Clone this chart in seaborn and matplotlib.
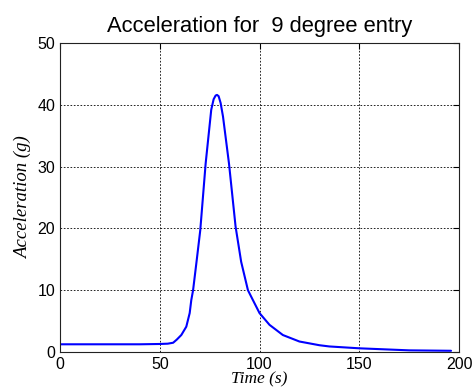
import pandas as pd
import matplotlib
matplotlib.use('Agg')
import matplotlib.pyplot as plt
import seaborn as sns

# values
time_s = [0, 20, 40, 50, 54, 56.7, 58.5, 60.8, 63.3, 65, 65.8, 66.7, 68.5, 70.3,
          73, 75.8, 77, 78, 78.7, 79.5, 80.5, 81.7, 84.7, 88, 90.8, 94.2,
          96.7, 100, 105, 111.7, 120, 130, 135, 150, 175, 196]
accel_g = [1.25, 1.25, 1.25, 1.3, 1.35, 1.5, 2.0, 2.75, 4.1, 6.3, 8.4, 10.0, 14.8, 19.7,
           30.5, 39.2, 40.9, 41.5, 41.6, 41.4, 40.3, 38.1, 30.5, 20.3, 14.6, 10.0,
           8.4, 6.3, 4.4, 2.75, 1.7, 1.1, 0.9, 0.6, 0.27, 0.2]

df = pd.DataFrame({'Time': time_s, 'Accel': accel_g})

sns.set_style('white')
plt.rcParams['font.family'] = ['Liberation Sans', 'DejaVu Sans']
plt.rcParams['text.color'] = 'black'
plt.rcParams['axes.labelcolor'] = 'black'
plt.rcParams['xtick.color'] = 'black'
plt.rcParams['ytick.color'] = 'black'

fig = plt.figure(figsize=(4.74, 3.91), dpi=100)
ax = fig.add_axes([0.1266, 0.0997, 0.8418, 0.7903])
sns.lineplot(data=df, x='Time', y='Accel', ax=ax, color='#0000ff', linewidth=1.5)

ax.set_xlim(0, 200)
ax.set_ylim(0, 50)
ax.set_xticks([0, 50, 100, 150, 200])
ax.set_yticks([0, 10, 20, 30, 40, 50])
ax.grid(True, color='black', linestyle=(0, (2, 2)), linewidth=0.6)
ax.tick_params(direction='in', length=4, labelsize=11.5, top=True, right=True)
for s in ax.spines.values():
    s.set_color('#222222')
    s.set_linewidth(0.8)

ax.set_title('Acceleration for  9 degree entry', fontsize=15.8, pad=8, color='black')
ax.set_xlabel('Time (s)', fontsize=12.5, style='italic', family='Liberation Serif', labelpad=0)
ax.set_ylabel('Acceleration (g)', fontsize=13.5, style='italic', family='Liberation Serif', labelpad=4)

fig.savefig('out.png', dpi=100)
